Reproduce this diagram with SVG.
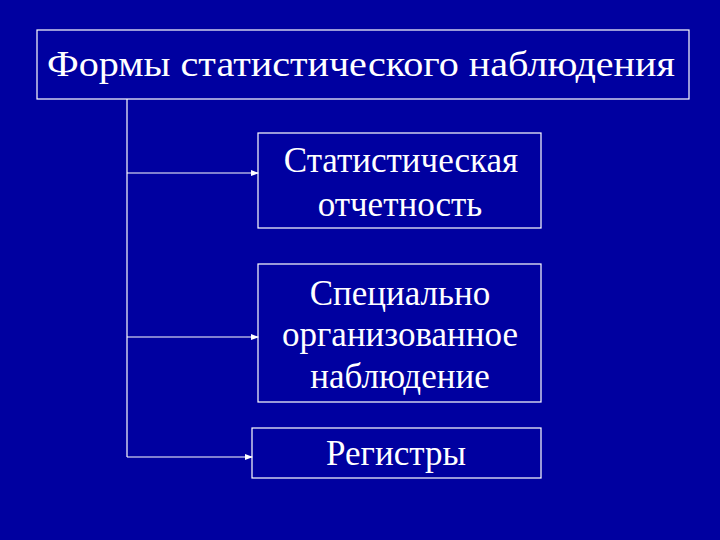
<svg xmlns="http://www.w3.org/2000/svg" width="720" height="540" viewBox="0 0 720 540">
<style>
.box{fill:none;stroke:#fff;stroke-width:1.2}
.t{font-family:"Liberation Serif","Times New Roman",serif;fill:#fff;font-size:35px;text-anchor:middle}
.c{stroke:#fff;stroke-width:1.2;fill:none;marker-end:url(#a)}
</style>
<defs><marker id="a" markerWidth="8" markerHeight="6" refX="7" refY="3" orient="auto" markerUnits="userSpaceOnUse"><path d="M0,0L8,3L0,6z" fill="#fff"/></marker></defs>
<rect width="720" height="540" fill="#0000a0"/>
<g id="title"><rect class="box" x="37" y="30" width="652" height="69"/><text class="t" x="361" y="76" font-size="36" textLength="628" lengthAdjust="spacingAndGlyphs">Формы статистического наблюдения</text></g>
<g id="n1"><rect class="box" x="258" y="133" width="283" height="95"/><text class="t" x="401" y="172">Статистическая</text><text class="t" x="400" y="216">отчетность</text></g>
<g id="n2"><rect class="box" x="258" y="264" width="283" height="138"/><text class="t" x="400" y="305">Специально</text><text class="t" x="400" y="346">организованное</text><text class="t" x="400" y="388">наблюдение</text></g>
<g id="n3"><rect class="box" x="252" y="428" width="289" height="50"/><text class="t" x="396" y="465">Регистры</text></g>
<g id="connectors">
<path class="box" d="M127,99V457"/>
<path class="c" d="M127,173H258"/>
<path class="c" d="M127,337H258"/>
<path class="c" d="M127,457H252"/>
</g>
</svg>
